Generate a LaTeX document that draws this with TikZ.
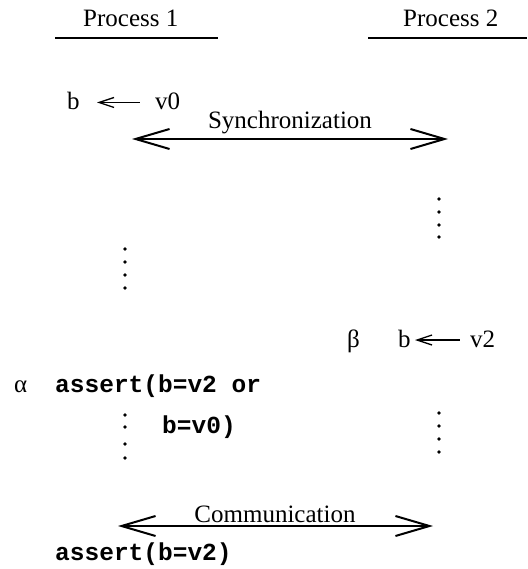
\documentclass[tikz,border=0pt]{standalone}
\usepackage{fontspec}
\setmainfont{Liberation Serif}
\setmonofont{Liberation Mono}
\usetikzlibrary{arrows.meta}
\begin{document}
\begin{tikzpicture}[x=1pt,y=-1pt,
  lbl/.style={inner sep=0pt,anchor=base west,font=\fontsize{25}{28}\selectfont},
  code/.style={inner sep=0pt,anchor=base west,font=\fontsize{24.5}{28}\selectfont\ttfamily\bfseries},
  rule/.style={line width=2pt},
  msg/.style={line width=2pt,{Straight Barb[length=34pt,width=20pt,line width=2pt]}-{Straight Barb[length=34pt,width=20pt,line width=2pt]}},
  assign/.style={line width=1.3pt,{Straight Barb[length=15pt,width=10pt,line width=1.3pt]}-},
  dot/.style={fill=black,circle,inner sep=0pt,minimum size=3.6pt}]
\useasboundingbox (0,0) rectangle (527,569);

% process headers
\node[lbl] (p1) at (83,27) {Process 1};
\node[lbl] (p2) at (403,27) {Process 2};
\draw[rule] (55,38) -- (218,38);
\draw[rule] (368,38) -- (527,38);

% first assignment and synchronization
\node[lbl] (b0) at (67,110) {b};
\node[lbl] (v0) at (155,110) {v0};
\coordinate (b0r) at (97,102.5);
\coordinate (v0l) at (140,102.5);
\draw[assign] (b0r) -- (v0l);
\node[lbl,anchor=base] (sync) at (290,129) {Synchronization};
\coordinate (s1) at (132,139);
\coordinate (s2) at (448,139);
\draw[msg] (s1) -- (s2);

% elided steps
\foreach \y in {199,212,225,237} \node[dot] at (439,\y) {};
\foreach \y in {249,262,275,288} \node[dot] at (125,\y) {};

% second assignment
\node[lbl] (beta) at (347,347) {β};
\node[lbl] (b2) at (398,347) {b};
\node[lbl] (v2) at (470,347) {v2};
\coordinate (b2r) at (415,340);
\coordinate (v2l) at (460,340);
\draw[assign] (b2r) -- (v2l);

% first assertion
\node[lbl] (alpha) at (14,392) {α};
\node[code] (a1) at (55,392) {assert(b=v2 or};
\node[code] (a1b) at (162,433) {b=v0)};
\foreach \y in {415,427,444,458} \node[dot] at (125,\y) {};
\foreach \y in {413,426,439,452} \node[dot] at (439,\y) {};

% communication
\node[lbl,anchor=base] (comm) at (275,522) {Communication};
\coordinate (c1) at (118,526);
\coordinate (c2) at (433,526);
\draw[msg] (c1) -- (c2);

% final assertion
\node[code] (a2) at (55,560) {assert(b=v2)};
\end{tikzpicture}
\end{document}
